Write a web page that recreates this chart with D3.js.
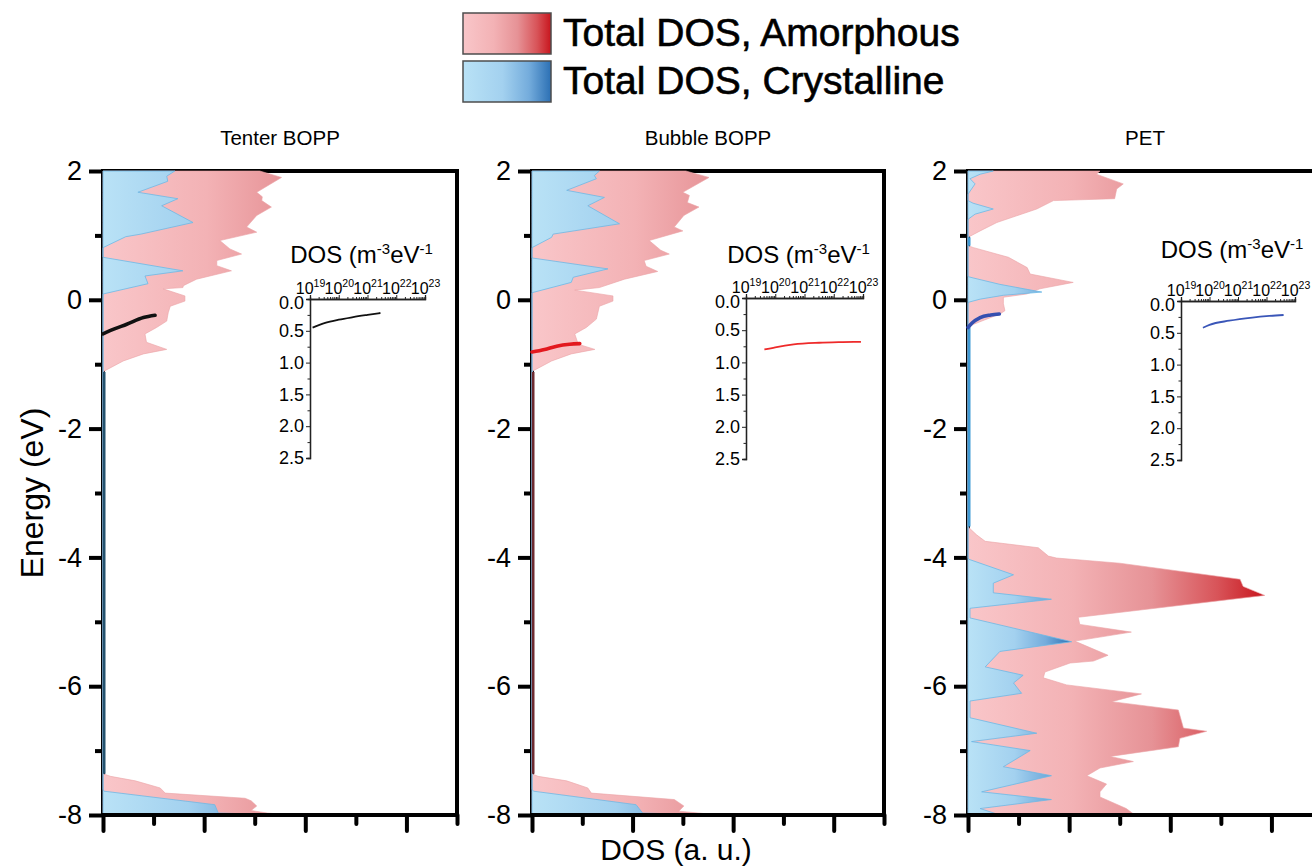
<!DOCTYPE html>
<html>
<head>
<meta charset="utf-8">
<script src="https://cdn.jsdelivr.net/npm/d3@7"></script>
<style>
  body { margin: 0; background: #fff; }
  svg { display: block; }
  text { font-family: "Liberation Sans", Arial, sans-serif; fill: #000; }
</style>
</head>
<body>
<svg id="chart" width="1312" height="867"></svg>
<script>
// ---------- data: energy (eV) vs total DOS (a.u.) ----------
const tenterAmorphous = [[2.00,3.10],[1.90,3.53],[1.67,3.04],[1.60,3.15],[1.54,3.14],[1.44,3.33],[1.31,3.04],[1.13,2.84],[1.05,3.04],[0.92,2.31],[0.79,2.51],[0.71,2.74],[0.61,2.25],[0.53,2.25],[0.45,2.54],[0.32,1.85],[0.22,1.59],[0.19,1.58],[0.17,1.19],[0.06,1.62],[-0.02,1.62],[-0.10,1.33],[-0.20,1.29],[-0.33,1.26],[-0.43,1.06],[-0.53,0.83],[-0.66,0.86],[-0.77,1.26],[-0.84,0.80],[-0.95,0.40],[-1.10,0.04],[-1.12,0],[-7.36,0],[-7.40,0.15],[-7.47,0.64],[-7.58,1.13],[-7.66,1.23],[-7.74,2.81],[-7.78,2.93],[-7.86,3.04],[-7.93,2.93],[-7.97,3.25],[-8.00,3.75]];
const tenterCrystalline = [[2.00,1.42],[1.92,1.26],[1.84,1.28],[1.67,0.69],[1.57,1.48],[1.46,1.16],[1.20,1.78],[1.02,0.75],[0.98,0.45],[0.81,0],[0.66,0],[0.45,1.58],[0.37,0.83],[0.25,0.89],[0.09,0],[-7.60,0],[-7.63,0.02],[-7.84,2.21],[-7.97,2.28],[-8.00,3.76]];

const bubbleAmorphous = [[2.00,3.06],[1.90,3.52],[1.67,3.00],[1.62,3.13],[1.51,3.09],[1.44,3.32],[1.31,3.02],[1.13,2.83],[1.07,3.00],[0.92,2.33],[0.77,2.56],[0.71,2.73],[0.61,2.23],[0.52,2.27],[0.44,2.50],[0.32,1.84],[0.19,1.34],[0.15,0.85],[0.06,1.61],[-0.02,1.61],[-0.10,1.34],[-0.20,1.31],[-0.30,1.28],[-0.43,1.08],[-0.53,0.85],[-0.69,0.92],[-0.77,1.25],[-0.84,0.78],[-0.95,0.39],[-1.10,0.03],[-1.12,0],[-7.36,0],[-7.40,0.12],[-7.47,0.69],[-7.58,1.11],[-7.66,1.18],[-7.76,2.83],[-7.86,3.02],[-7.94,2.92],[-8.00,3.72]];
const bubbleCrystalline = [[2.00,1.34],[1.93,1.24],[1.88,1.28],[1.70,0.69],[1.59,1.44],[1.46,1.11],[1.18,1.74],[1.02,0.42],[0.97,0.39],[0.81,0],[0.65,0],[0.48,1.51],[0.35,0.82],[0.27,0.78],[0.11,0],[-7.60,0],[-7.63,0.03],[-7.84,2.07],[-7.97,2.20],[-8.00,3.72]];

const petAmorphous = [[2.00,2.61],[1.95,2.54],[1.80,3.07],[1.72,2.94],[1.57,2.90],[1.54,1.69],[1.41,1.36],[1.20,0.57],[1.07,0.24],[0.97,0],[0.84,0],[0.81,0.11],[0.66,0.80],[0.50,1.17],[0.40,1.23],[0.27,2.08],[0.17,1.42],[0.09,1.16],[0.04,0.70],[-0.06,0.70],[-0.17,0.73],[-0.22,0.63],[-0.38,0.11],[-0.43,0],[-3.52,0],[-3.54,0.02],[-3.65,0.17],[-3.75,0.34],[-3.85,1.39],[-3.98,1.59],[-4.01,1.75],[-4.09,3.00],[-4.34,5.38],[-4.45,5.44],[-4.59,5.87],[-4.93,2.18],[-5.04,2.21],[-5.16,3.23],[-5.30,2.11],[-5.52,2.77],[-5.61,2.48],[-5.64,2.02],[-5.78,1.52],[-5.87,1.49],[-5.98,1.95],[-6.12,3.43],[-6.24,2.84],[-6.37,4.16],[-6.65,4.26],[-6.70,4.72],[-6.81,4.19],[-6.94,4.16],[-7.09,2.81],[-7.17,3.27],[-7.27,2.61],[-7.39,2.35],[-7.52,2.74],[-7.64,2.61],[-7.72,2.61],[-7.90,3.13],[-8.00,3.30]];
const petCrystalline = [[2.00,0.50],[1.95,0.24],[1.88,0.04],[1.80,0.14],[1.72,0.07],[1.64,0],[1.54,0],[1.50,0.10],[1.41,0.50],[1.33,0.14],[1.25,0],[0.36,0],[0.34,0.10],[0.24,0.63],[0.12,1.46],[0.07,0.70],[0.01,0.24],[-0.04,0],[-4.01,0],[-4.03,0.02],[-4.27,0.90],[-4.40,0.50],[-4.55,0.50],[-4.65,1.65],[-4.79,0.04],[-4.94,0.04],[-5.31,2.05],[-5.46,0.63],[-5.70,0.34],[-5.83,1.09],[-5.95,0.90],[-6.11,1.06],[-6.23,0.04],[-6.49,0.04],[-6.73,1.36],[-6.86,0.07],[-7.00,1.23],[-7.25,0.70],[-7.39,1.65],[-7.64,0.27],[-7.76,1.65],[-7.90,0.24],[-8.00,0.63]];

// trap-level traces drawn in the main panels: [DOS (a.u.), energy (eV)]
const tenterTrace = [[0,-0.53],[0.20,-0.46],[0.47,-0.38],[0.80,-0.275],[1.03,-0.24]];
const bubbleTrace = [[0,-0.81],[0.25,-0.77],[0.49,-0.72],[0.75,-0.69],[0.95,-0.68]];
const petTrace    = [[0,-0.43],[0.08,-0.36],[0.24,-0.275],[0.45,-0.235],[0.62,-0.22]];

// inset traces: [log10 DOS (m^-3 eV^-1), depth (eV)]
const tenterInset = [[19.09,0.45],[19.5,0.38],[20.0,0.325],[20.5,0.285],[21.0,0.25],[21.45,0.22]];
const bubbleInset = [[19.63,0.80],[20.0,0.765],[20.63,0.72],[21.5,0.695],[22.3,0.685],[22.93,0.68]];
const petInset    = [[19.77,0.42],[20.0,0.375],[20.69,0.31],[21.5,0.26],[22.1,0.235],[22.6,0.22]];

// ---------- labels and ticks ----------
const panelTitles = ["Tenter BOPP", "Bubble BOPP", "PET"];
const legendLabels = ["Total DOS, Amorphous", "Total DOS, Crystalline"];
const energyMajorTicks = [2, 0, -2, -4, -6, -8];
const energyMinorTicks = [1, -1, -3, -5, -7];
const dosMajorTicks = [0, 2, 4, 6];
const dosMinorTicks = [1, 3, 5, 7];
const insetDepthTicks = [0, 0.5, 1.0, 1.5, 2.0, 2.5];
const insetDepthMinor = [0.25, 0.75, 1.25, 1.75, 2.25];
const insetDecades = [19, 20, 21, 22, 23];

// ---------- styling ----------
const FONT = '"Liberation Sans", Arial, sans-serif';
const redStops  = [[0, "#f9c6c9"], [0.35, "#f3b2b5"], [0.62, "#e69296"], [0.84, "#d85459"], [1, "#c8151d"]];
const blueStops = [[0, "#b9e2f6"], [0.45, "#a3d1ef"], [0.75, "#74acdc"], [1, "#2c70b4"]];

const svg = d3.select("#chart");
const defs = svg.append("defs");
const yTop = 171, yBottom = 815;

const panels = [
  { title: panelTitles[0], red: tenterAmorphous, blue: tenterCrystalline, trace: tenterTrace, inset: tenterInset,
    left: 103, width: 354, traceColor: "#111111", insetColor: "#111111", baseColor: "#24536f",
    box: { x: 310, y: 299, w: 115, h: 159, labelY: 263 } },
  { title: panelTitles[1], red: bubbleAmorphous, blue: bubbleCrystalline, trace: bubbleTrace, inset: bubbleInset,
    left: 532, width: 352, traceColor: "#e3191f", insetColor: "#ee2a2a", baseColor: "#6e2a30",
    box: { x: 746, y: 298, w: 117, h: 161, labelY: 263 } },
  { title: panelTitles[2], red: petAmorphous, blue: petCrystalline, trace: petTrace, inset: petInset,
    left: 968, width: 354, traceColor: "#3550b0", insetColor: "#3a56b8", baseColor: "#3f9ad4",
    box: { x: 1181, y: 301, w: 114, h: 159, labelY: 258 } }
];

const redSpan = d3.max(panels, p => d3.max(p.red, d => d[1]));

function addGradient(id, stops, x1, x2) {
  const g = defs.append("linearGradient").attr("id", id)
    .attr("gradientUnits", "userSpaceOnUse")
    .attr("x1", x1).attr("x2", x2).attr("y1", 0).attr("y2", 0);
  stops.forEach(s => g.append("stop").attr("offset", s[0]).attr("stop-color", s[1]));
}

function zeroRuns(series) {
  const runs = [];
  for (let i = 0; i < series.length - 1; i++) {
    if (series[i][1] === 0 && series[i + 1][1] === 0) runs.push([series[i][0], series[i + 1][0]]);
  }
  return runs;
}
function sharedRuns(a, b) {
  const out = [];
  a.forEach(r => b.forEach(q => {
    const top = Math.min(r[0], q[0]), bot = Math.max(r[1], q[1]);
    if (top > bot) out.push([top, bot]);
  }));
  return out;
}

panels.forEach((p, i) => {
  const x = d3.scaleLinear().domain([0, 7]).range([p.left, p.left + p.width]);
  const y = d3.scaleLinear().domain([-8, 2]).range([yBottom, yTop]);
  const g = svg.append("g");

  addGradient("red" + i, redStops, x(0), x(redSpan));
  addGradient("blue" + i, blueStops, x(0), x(d3.max(p.blue, d => d[1])));

  // title
  g.append("text").attr("x", p.left + p.width / 2).attr("y", 145)
    .attr("text-anchor", "middle").attr("font-size", 20.5).text(p.title);

  // frame: left, top, right
  const frame = g.append("g").attr("stroke", "#000").attr("stroke-width", 4);
  frame.append("line").attr("x1", x(0)).attr("x2", x(0)).attr("y1", y(2) - 2).attr("y2", y(-8) + 2);
  frame.append("line").attr("x1", x(0) - 2).attr("x2", x(7) + 2).attr("y1", y(2)).attr("y2", y(2));
  frame.append("line").attr("x1", x(7)).attr("x2", x(7)).attr("y1", y(2) - 2).attr("y2", y(-8) + 2);

  // energy axis ticks
  const yMajor = d3.axisLeft(y).tickValues(energyMajorTicks).tickSize(14).tickPadding(7).tickFormat(d => String(d));
  const yMinor = d3.axisLeft(y).tickValues(energyMinorTicks).tickSize(8).tickFormat("");
  [yMajor, yMinor].forEach(ax => {
    const a = g.append("g").attr("transform", `translate(${x(0)},0)`).call(ax);
    a.select(".domain").remove();
    a.selectAll("line").attr("stroke", "#000").attr("stroke-width", 4);
    a.selectAll("text").attr("font-size", 27).attr("font-family", FONT).attr("fill", "#000");
  });

  // DOS areas: amorphous behind, crystalline in front
  const area = d3.area().curve(d3.curveLinear)
    .y(d => y(d[0])).x0(x(0)).x1(d => x(d[1]));
  g.append("path").datum(p.red).attr("d", area)
    .attr("fill", `url(#red${i})`).attr("stroke", "#eba2a6").attr("stroke-width", 0.6);
  g.append("path").datum(p.blue).attr("d", area)
    .attr("fill", `url(#blue${i})`).attr("stroke", "#6cb9e6").attr("stroke-width", 0.8);

  // baseline where both densities vanish
  sharedRuns(zeroRuns(p.red), zeroRuns(p.blue)).forEach(r => {
    g.append("line").attr("x1", x(0) + 1.2).attr("x2", x(0) + 1.2)
      .attr("y1", y(r[0])).attr("y2", y(r[1]))
      .attr("stroke", p.baseColor).attr("stroke-width", 2.6);
  });

  // trap trace
  g.append("path").datum(p.trace)
    .attr("d", d3.line().curve(d3.curveMonotoneX).x(d => x(d[0])).y(d => y(d[1])))
    .attr("fill", "none").attr("stroke", p.traceColor).attr("stroke-width", 3.6).attr("stroke-linecap", "round");

  // bottom axis
  g.append("line").attr("x1", x(0) - 2).attr("x2", x(7) + 2).attr("y1", y(-8)).attr("y2", y(-8))
    .attr("stroke", "#000").attr("stroke-width", 4);
  const xMajor = d3.axisBottom(x).tickValues(dosMajorTicks).tickSize(16).tickFormat("");
  const xMinor = d3.axisBottom(x).tickValues(dosMinorTicks).tickSize(9).tickFormat("");
  [xMajor, xMinor].forEach(ax => {
    const a = g.append("g").attr("transform", `translate(0,${y(-8)})`).call(ax);
    a.select(".domain").remove();
    a.selectAll("line").attr("stroke", "#000").attr("stroke-width", 4).attr("stroke-linecap", "round");
  });

  // inset: DOS (m^-3 eV^-1) vs depth
  const b = p.box;
  const ix = d3.scaleLog().domain([1e19, 1e23]).range([b.x, b.x + b.w]);
  const iy = d3.scaleLinear().domain([0, 2.5]).range([b.y, b.y + b.h]);
  const ig = g.append("g");

  const lbl = ig.append("text").attr("x", b.x + b.w / 2 - 6).attr("y", b.labelY)
    .attr("text-anchor", "middle").attr("font-size", 24);
  lbl.append("tspan").text("DOS (m");
  lbl.append("tspan").attr("font-size", 15).attr("dy", -9).text("-3");
  lbl.append("tspan").attr("dy", 9).text("eV");
  lbl.append("tspan").attr("font-size", 15).attr("dy", -9).text("-1");

  const iyAxis = ig.append("g").attr("transform", `translate(${b.x},0)`)
    .call(d3.axisLeft(iy).tickValues(insetDepthTicks).tickSize(4).tickPadding(2).tickFormat(d3.format(".1f")));
  ig.append("g").attr("transform", `translate(${b.x},0)`)
    .call(d3.axisLeft(iy).tickValues(insetDepthMinor).tickSize(2.5).tickFormat(""));

  const minorLog = [];
  insetDecades.slice(0, -1).forEach(e => { for (let k = 2; k <= 9; k++) minorLog.push(k * Math.pow(10, e)); });
  const ixAxis = ig.append("g").attr("transform", `translate(0,${b.y})`)
    .call(d3.axisTop(ix).tickValues(insetDecades.map(e => Math.pow(10, e))).tickSize(4).tickPadding(3).tickFormat(""));
  ig.append("g").attr("transform", `translate(0,${b.y})`)
    .call(d3.axisTop(ix).tickValues(minorLog).tickSize(2).tickFormat(""));

  ig.selectAll(".domain").attr("stroke", "#222").attr("stroke-width", 1.3);
  ig.selectAll(".tick line").attr("stroke", "#222").attr("stroke-width", 1);
  iyAxis.selectAll("text").attr("font-size", 18).attr("font-family", FONT).attr("fill", "#000")
    .attr("dy", d => d === 0 ? "0.55em" : "0.32em");

  // decade labels with superscript exponents
  ixAxis.selectAll(".tick").each(function(d) {
    const t = d3.select(this).append("text").attr("y", -5).attr("text-anchor", "middle")
      .attr("fill", "#000").attr("font-size", 16).attr("font-family", FONT);
    t.append("tspan").text("10");
    t.append("tspan").attr("font-size", 10.5).attr("dy", -7).text(Math.round(Math.log10(d)));
  });

  ig.append("path").datum(p.inset)
    .attr("d", d3.line().curve(d3.curveMonotoneX).x(d => ix(Math.pow(10, d[0]))).y(d => iy(d[1])))
    .attr("fill", "none").attr("stroke", p.insetColor).attr("stroke-width", 1.8);
});

// axis titles
svg.append("text").attr("transform", "translate(43,493) rotate(-90)")
  .attr("text-anchor", "middle").attr("font-size", 32).text("Energy (eV)");
svg.append("text").attr("x", 676).attr("y", 860)
  .attr("text-anchor", "middle").attr("font-size", 30).text("DOS (a. u.)");

// legend
addGradient("legRed", redStops, 463, 551);
addGradient("legBlue", blueStops, 463, 551);
const legend = svg.append("g");
[["legRed", legendLabels[0]], ["legBlue", legendLabels[1]]].forEach((e, k) => {
  const top = 13 + k * 48;
  legend.append("rect").attr("x", 463).attr("y", top).attr("width", 88).attr("height", 41)
    .attr("fill", `url(#${e[0]})`).attr("stroke", "#4d4d4d").attr("stroke-width", 1.5);
  legend.append("text").attr("x", 563).attr("y", top + 33).attr("font-size", 39)
    .attr("stroke", "#000").attr("stroke-width", 0.6).text(e[1]);
});
</script>
</body>
</html>
